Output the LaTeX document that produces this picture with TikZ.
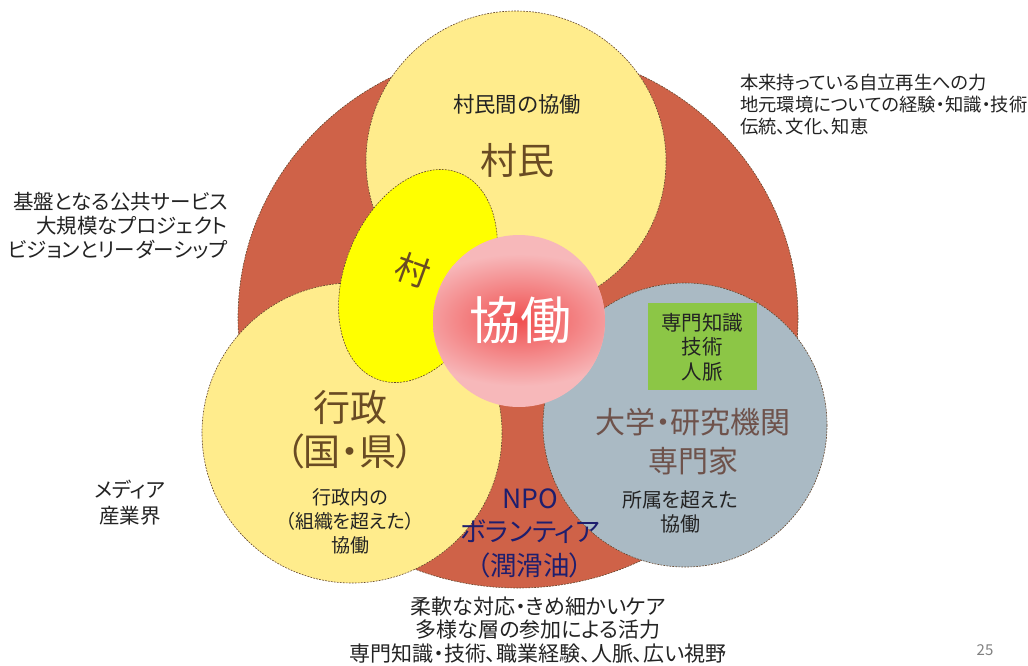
\documentclass[tikz,border=0pt]{standalone}
\usepackage{fontspec}
\setmainfont{Noto Sans CJK JP}[RawFeature=+palt]
\definecolor{redc}{RGB}{207,98,72}
\definecolor{ylw}{RGB}{255,236,140}
\definecolor{ylw2}{RGB}{255,255,0}
\definecolor{grayc}{RGB}{170,186,196}
\definecolor{pinkc}{RGB}{247,184,186}
\definecolor{glowc}{RGB}{240,80,80}
\definecolor{greenc}{RGB}{140,198,70}
\definecolor{edgec}{RGB}{100,70,45}
\definecolor{brownt}{RGB}{105,75,35}
\definecolor{brownt2}{RGB}{110,82,75}
\definecolor{navyc}{RGB}{30,30,110}
\definecolor{txt}{RGB}{35,35,35}
\begin{document}
\begin{tikzpicture}[x=1pt,y=-1pt,
  edge/.style={draw=edgec, line width=0.6pt, dash pattern=on 1.8pt off 1.2pt},
  lbl/.style={text=txt, align=center, inner sep=0pt}]
\useasboundingbox (0,0) rectangle (1028,666);
\fill[white] (0,0) rectangle (1028,666);
% shapes
\path[fill=redc, edge] (518,318) ellipse [x radius=280, y radius=270];
\path[fill=ylw, edge] (516,161) circle [radius=150];
\path[fill=ylw, edge] (352,433) circle [radius=150];
\path[fill=grayc, edge] (685,425) circle [radius=142];
\fill[greenc] (648,303) rectangle (757,390);
\path[fill=ylw2, edge, rotate around={-22:(418,276)}] (418,276) ellipse [x radius=73, y radius=111];
\fill[pinkc] (519,321) circle [radius=86];
\begin{scope}
  \clip (519,321) circle [radius=86];
  \shade[inner color=glowc, outer color=pinkc] (520,320) ellipse [x radius=118, y radius=66];
\end{scope}
% texts
\node[lbl, font=\fontsize{21.4}{24}\selectfont] (collab1) at (517,104) {村民間の協働};
\node[lbl, text=brownt, font=\fontsize{37}{40}\selectfont] (villagers) at (517,160) {村民};
\node[lbl, text=brownt, rotate=-20, font=\fontsize{34}{36}\selectfont] (village) at (413,270) {村};
\node[lbl, text=white, font=\fontsize{51}{54}\selectfont] (kyodo) at (520,320) {協働};
\node[lbl, text=brownt, font=\fontsize{37}{44}\selectfont] (gov) at (350,430) {行政\\（国・県）};
\node[lbl, font=\fontsize{19}{24}\selectfont] (govc) at (350,521) {行政内の\\（組織を超えた）\\協働};
\node[lbl, font=\fontsize{20.5}{24.5}\selectfont] (expert) at (702,347) {専門知識\\技術\\人脈};
\node[lbl, text=brownt2, font=\fontsize{30}{39}\selectfont] (univ) at (693,442) {大学・研究機関\\専門家};
\node[lbl, font=\fontsize{20}{24}\selectfont] (univc) at (680,512) {所属を超えた\\協働};
\node[lbl, text=navyc, font=\fontsize{26.5}{33.5}\selectfont] (npo) at (530,533) {NPO\\ボランティア\\（潤滑油）};
\node[lbl, align=right, anchor=east, font=\fontsize{20.5}{24}\selectfont] (leftt) at (228,226) {基盤となる公共サービス\\大規模なプロジェクト\\ビジョンとリーダーシップ};
\node[lbl, font=\fontsize{20.5}{26}\selectfont] (media) at (130,503) {メディア\\産業界};
\node[lbl, align=left, anchor=west, font=\fontsize{18.3}{22}\selectfont] (topr) at (740,105) {本来持っている自立再生への力\\地元環境についての経験・知識・技術\\伝統、文化、知恵};
\node[lbl, font=\fontsize{21}{23.5}\selectfont] (bottom) at (538,630) {柔軟な対応・きめ細かいケア\\多様な層の参加による活力\\専門知識・技術、職業経験、人脈、広い視野};
\node[lbl, text=gray, font=\fontsize{15}{18}\selectfont] (page) at (985,650) {25};
\end{tikzpicture}
\end{document}
